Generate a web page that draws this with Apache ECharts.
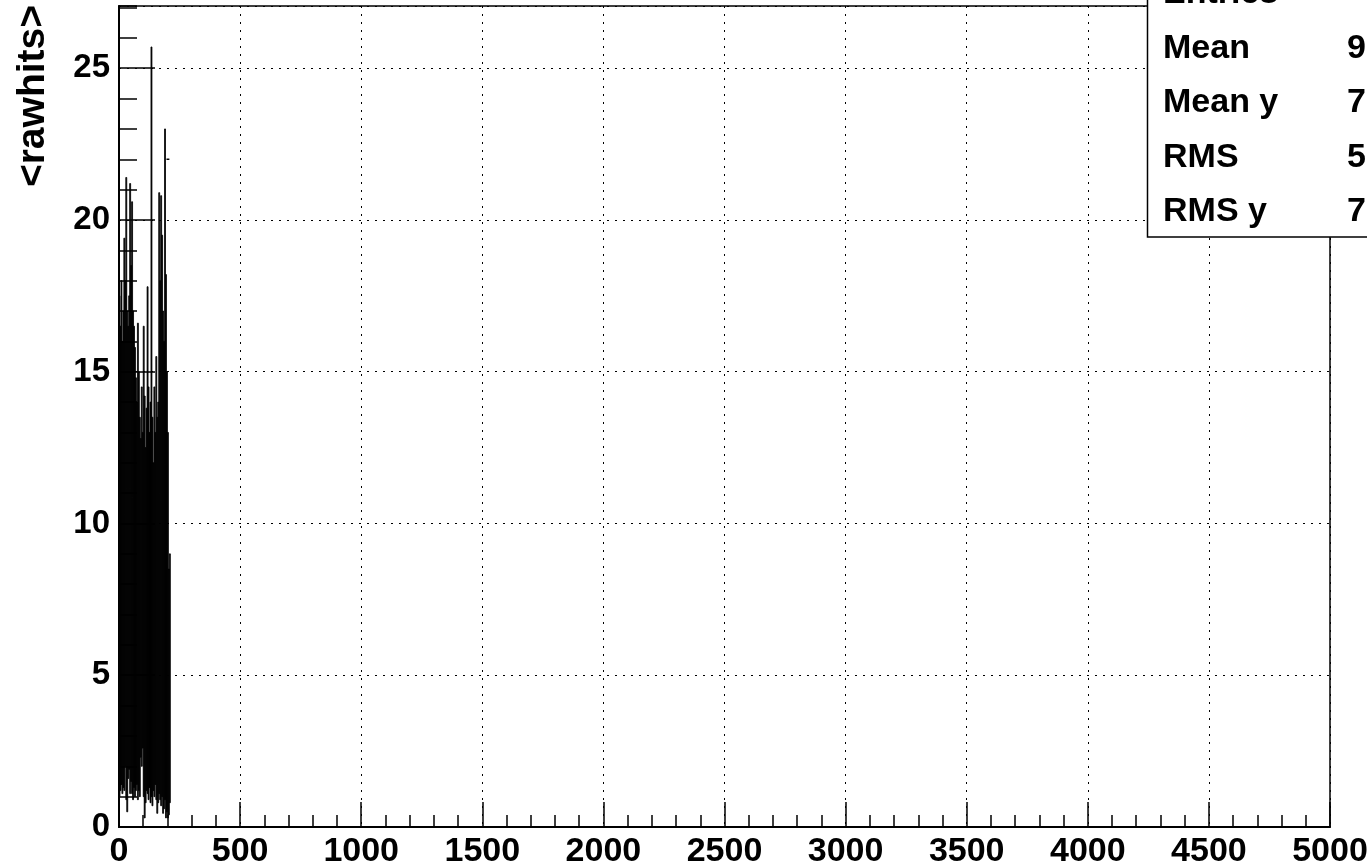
<!DOCTYPE html>
<html>
<head>
<meta charset="utf-8">
<script src="https://cdn.jsdelivr.net/npm/echarts@6/dist/echarts.min.js"></script>
<style>
  html, body { margin: 0; padding: 0; background: #fff; }
  #chart { width: 1367px; height: 868px; }
</style>
</head>
<body>
<div id="chart"></div>
<script>
// Profile of <rawhits> per channel: each column is the spread (lowest to highest
// edge of the error bars) of the bins that fall into a 4-unit slice.
const binWidth = 4;
const binStart = [
  0, 4, 8, 12, 16, 20, 24, 28, 32, 36, 40, 44, 48, 52, 56, 60, 64, 68,
  72, 76, 80, 84, 88, 92, 96, 100, 104, 108, 112, 116, 120, 124, 128, 132,
  136, 140, 144, 148, 152, 156, 160, 164, 168, 172, 176, 180, 184, 188,
  192, 196, 200, 204, 208
];
const spreadLow = [
  1.0, 1.2, 1.4, 1.1, 1.3, 1.2, 2.0, 0.9, 0.5, 1.6, 1.9, 1.1, 1.5, 1.1, 0.9, 1.3, 1.0,
  1.2,
  1.4, 0.9, 1.2, 1.0, 2.3, 2.0, 2.6, 1.0, 0.3, 0.8, 1.2, 1.1, 0.9, 1.3, 0.8, 1.0, 0.7,
  1.2, 1.0, 1.4, 0.9, 0.45, 0.8, 1.1, 0.9, 0.7, 1.0, 0.45, 0.6, 0.9, 0.3, 0.5, 0.3, 0.4, 0.8
];
const spreadHigh = [
  17.5, 16.5, 18.0, 16.0, 17.0, 19.4, 18.0, 21.4, 17.0, 16.5, 17.5, 21.2, 18.5, 20.6, 17.0, 16.5, 15.8,
  14.8,
  14.0, 16.6, 15.0, 13.5, 12.8, 14.5, 13.0, 16.5, 14.2, 12.5, 13.8, 17.8, 14.5, 13.0, 14.0, 25.7, 13.5,
  12.0, 14.5, 13.0, 15.5, 13.5, 14.0, 20.9, 18.0, 20.8, 19.5, 17.0, 16.0, 23.0, 18.2, 15.0, 13.0, 8.5, 9.0
];
// Single-entry bin drawn only as its horizontal marker
const lonePointX = [202];
const lonePointY = [22.0];

// Statistics box
const statNames = ['Entries', 'Mean', 'Mean y', 'RMS', 'RMS y'];
const statValues = ['', '9', '7', '5', '7'];

const xTicks = { min: 0, max: 5000, interval: 500 };
const yTicks = { min: 0, max: 27.05, interval: 5 };

const FONT = 'Liberation Sans, Arial, Helvetica, sans-serif';

const chart = echarts.init(document.getElementById('chart'), null, { renderer: 'canvas' });

const spreadData = binStart.map((x, i) => [x, spreadLow[i], spreadHigh[i]]);
const loneData = lonePointX.map((x, i) => [x, lonePointY[i]]);

const statGraphics = [];
statGraphics.push({
  type: 'rect',
  shape: { x: 1147.5, y: -20, width: 260, height: 257 },
  style: { fill: '#fff', stroke: '#000', lineWidth: 1.5 },
  z: 100
});
const rowBase = [11, 66, 120, 174.5, 229];
statNames.forEach((name, i) => {
  statGraphics.push({
    type: 'text', x: 1163, y: rowBase[i], z: 101,
    style: { text: name, font: 'bold 34px ' + FONT, fill: '#000', align: 'left', verticalAlign: 'bottom' }
  });
  if (statValues[i]) {
    statGraphics.push({
      type: 'text', x: 1347, y: rowBase[i], z: 101,
      style: { text: statValues[i], font: 'bold 34px ' + FONT, fill: '#000', align: 'left', verticalAlign: 'bottom' }
    });
  }
});

const axisLabelStyle = { color: '#000', fontFamily: FONT, fontWeight: 'bold', fontSize: 34 };
const dotted = { color: '#000', width: 1, type: [2, 6] };
const plainNumber = v => String(Math.round(v));

chart.setOption({
  animation: false,
  backgroundColor: '#fff',
  grid: {
    left: 119, right: 37, top: 6, bottom: 41,
    outerBoundsMode: 'none', containLabel: false,
    show: true, borderColor: '#000', borderWidth: 1.5, backgroundColor: 'transparent'
  },
  xAxis: [{
    type: 'value', min: xTicks.min, max: xTicks.max, interval: xTicks.interval,
    axisLine: { show: true, onZero: false, lineStyle: { color: '#000', width: 2 } },
    axisTick: { show: true, inside: true, length: 25, lineStyle: { color: '#000', width: 1.5 } },
    minorTick: { show: true, splitNumber: 5, length: 12, lineStyle: { color: '#000', width: 1.5 } },
    splitLine: { show: true, lineStyle: dotted },
    axisLabel: Object.assign({ margin: 8, formatter: plainNumber, hideOverlap: false }, axisLabelStyle)
  }],
  yAxis: [{
    type: 'value', min: yTicks.min, max: yTicks.max, interval: yTicks.interval,
    axisLine: { show: true, onZero: false, lineStyle: { color: '#000', width: 2 } },
    axisTick: { show: true, inside: true, length: 36, lineStyle: { color: '#000', width: 1.5 } },
    splitLine: { show: true, lineStyle: dotted },
    axisLabel: Object.assign({ margin: 9, showMaxLabel: false, formatter: plainNumber }, axisLabelStyle, { fontSize: 33 })
  }, {
    // unit ticks between the labelled ones
    type: 'value', min: yTicks.min, max: yTicks.max, interval: 1, position: 'left',
    axisLine: { show: false },
    axisTick: { show: true, inside: true, length: 18, lineStyle: { color: '#000', width: 1.5 } },
    splitLine: { show: false },
    axisLabel: { show: false }
  }],
  series: [{
    type: 'custom',
    xAxisIndex: 0, yAxisIndex: 0,
    data: spreadData,
    encode: { x: 0, y: [1, 2] },
    clip: true,
    renderItem: function (params, api) {
      const x0 = api.value(0);
      const p1 = api.coord([x0, api.value(2)]);
      const p2 = api.coord([x0 + binWidth, api.value(1)]);
      return {
        type: 'rect',
        shape: { x: p1[0], y: p1[1], width: p2[0] - p1[0], height: p2[1] - p1[1] },
        style: { fill: '#000', stroke: '#000', lineWidth: 0.8 }
      };
    }
  }, {
    type: 'custom',
    xAxisIndex: 0, yAxisIndex: 0,
    data: loneData,
    encode: { x: 0, y: 1 },
    renderItem: function (params, api) {
      const x = api.value(0), y = api.value(1);
      const a = api.coord([x - 6, y]);
      const b = api.coord([x + 6, y]);
      return {
        type: 'line',
        shape: { x1: a[0], y1: a[1], x2: b[0], y2: b[1] },
        style: { stroke: '#000', lineWidth: 1.5 }
      };
    }
  }],
  graphic: [{
    type: 'text', x: 33, y: 5, rotation: Math.PI / 2, z: 50,
    style: { text: '<rawhits>', font: 'bold 39px ' + FONT, fill: '#000', align: 'right', verticalAlign: 'middle' }
  }].concat(statGraphics)
});
</script>
</body>
</html>
